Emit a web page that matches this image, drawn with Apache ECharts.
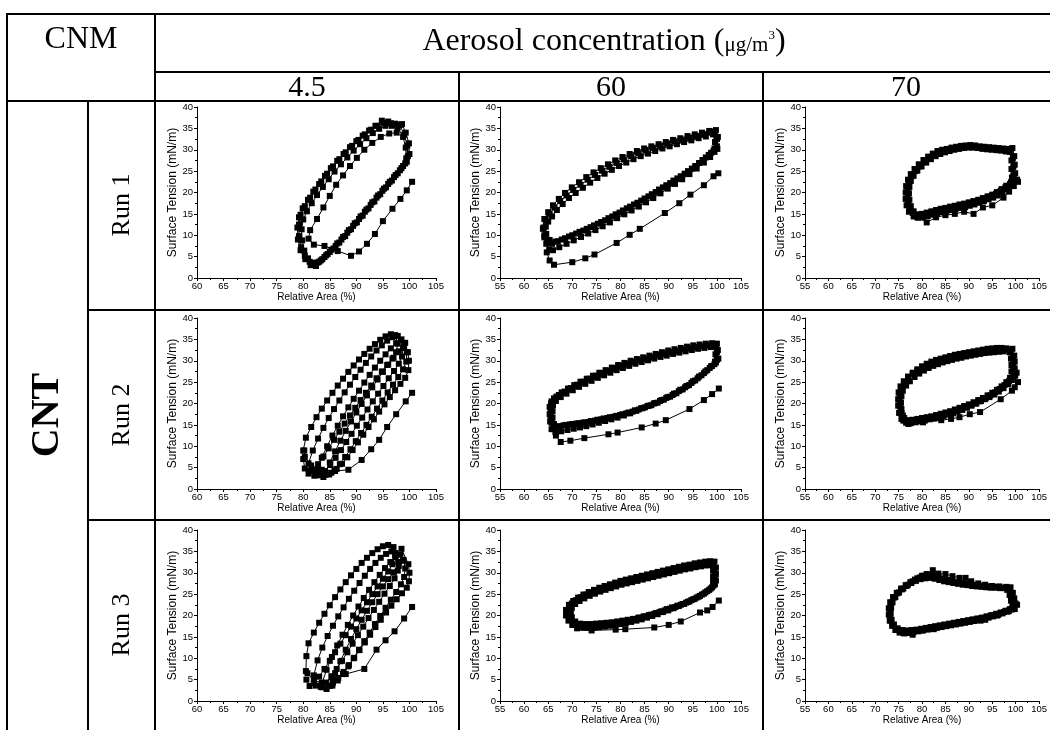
<!DOCTYPE html>
<html><head><meta charset="utf-8">
<script src="https://cdn.jsdelivr.net/npm/echarts@6/dist/echarts.min.js"></script>
<style>html,body{margin:0;padding:0;background:#fff}#c{width:1050px;height:730px}</style>
</head><body><div id="c"></div>
<script>
// ---------- labels ----------
const concentrations = ['4.5', '60', '70'];
const runs = ['Run 1', 'Run 2', 'Run 3'];
const xMinByCol = [60, 55, 55];
const xMax = 105;
const yMin = 0, yMax = 40;
const xTitle = 'Relative Area (%)';
const yTitle = 'Surface Tension (mN/m)';

// ---------- 4.5 µg/m3, Run 1 ----------
const a1First = [[100.5,22.5],[99.5,20.5],[98.3,18.5],[96.8,16.2],[95,13.3],[93.5,10.3],[92,8],[90.5,6.2],[89,5.2],[86.5,6.3],[84,7.5],[82,7.8],[81,9.2],[81.3,11.2],[82.6,13.8],[83.8,16.5],[85,19.2],[86.2,21.8],[87.5,24],[88.8,26.2],[90.1,28.1],[91.5,30],[93,31.6],[94.6,33],[96.2,33.8],[97.6,34]];
const a1Cycle1 = [[98.2,35.8],[99,33.5],[99.6,31],[99.7,28.5],[99.2,26.8],[98.2,25.2],[97.1,23.6],[96,22],[94.9,20.4],[93.8,18.8],[92.7,17.1],[91.6,15.5],[90.5,13.8],[89.4,12.2],[88.3,10.6],[87.2,9],[86.1,7.5],[85,6.1],[84,4.9],[83,3.8],[82.2,3.2],[81.2,3.8],[80.3,5.2],[79.6,7.2],[79.2,9.8],[79.2,12.5],[79.5,14.8],[80.3,16.8],[81.3,18.8],[82.3,20.7],[83.4,22.6],[84.5,24.4],[85.6,26.1],[86.8,27.8],[88,29.4],[89.2,30.9],[90.4,32.3],[91.6,33.6],[92.8,34.7],[94,35.6],[95.2,36.3],[96.5,36.2],[97.6,35.9]];
const a1Cycle2 = [[97.8,35.2],[98.8,33],[99.3,30.5],[99.4,28],[98.8,26.2],[97.8,24.5],[96.7,22.8],[95.6,21.2],[94.5,19.6],[93.4,17.9],[92.3,16.3],[91.2,14.6],[90.1,13],[89,11.4],[87.9,9.8],[86.8,8.3],[85.7,6.9],[84.6,5.6],[83.6,4.4],[82.7,3.6],[81.8,3.6],[80.9,4.6],[80.2,6.4],[79.8,8.8],[79.7,11.4],[80,13.7],[80.7,15.6],[81.6,17.5],[82.6,19.4],[83.7,21.3],[84.8,23.1],[85.9,24.9],[87.1,26.6],[88.3,28.2],[89.5,29.8],[90.7,31.3],[91.9,32.7],[93.1,33.9],[94.3,34.9],[95.5,35.6],[96.7,35.6]];
const a1Cycle3 = [[98.6,36],[99.3,34],[99.9,31.5],[100,29],[99.5,27.2],[98.5,25.7],[97.4,24.1],[96.3,22.5],[95.2,20.9],[94.1,19.3],[93,17.7],[91.9,16],[90.8,14.4],[89.7,12.8],[88.6,11.2],[87.5,9.6],[86.4,8.1],[85.3,6.6],[84.3,5.3],[83.3,4.1],[82.4,2.8],[81.4,3],[80.4,4.4],[79.5,6.5],[79,9],[78.9,11.8],[79.2,14.2],[79.9,16.3],[80.9,18.3],[81.9,20.2],[83,22],[84.1,23.9],[85.2,25.7],[86.4,27.4],[87.6,29],[88.8,30.6],[90,32],[91.2,33.3],[92.4,34.5],[93.6,35.6],[94.8,36.8],[96,36.6],[97.3,36.1]];

// ---------- 60 µg/m3, Run 1 ----------
const b1First = [[100.3,24.5],[99.3,23.8],[97.3,21.7],[94.5,19.5],[92.2,17.5],[89.2,15.2],[84,11.5],[81.9,10.1],[79.2,8.2],[74.6,5.5],[72.7,4.6],[70,3.7],[66.2,3.1],[65.3,4.1],[64.7,6]];
const b1Cycle1 = [[99.6,34.3],[100,32.5],[100,30.8],[99.3,29.8],[98.3,28.8],[97,27.6],[95.5,26.2],[94,25],[92.5,23.8],[91,22.8],[89.5,21.7],[88,20.7],[86.5,19.6],[85,18.6],[83.5,17.6],[82,16.7],[80.5,15.8],[79,14.9],[77.5,14],[76,13.1],[74.5,12.3],[73,11.5],[71.5,10.8],[70,10],[68.5,9.3],[67,8.6],[65.8,8],[64.8,8.6],[64.2,10],[64,11.8],[64.5,13.5],[65.3,15],[66.3,16.5],[67.5,18],[68.8,19.3],[70.2,20.6],[71.7,21.8],[73.2,23],[74.7,24.1],[76.2,25.1],[77.7,26],[79.2,26.9],[80.7,27.7],[82.2,28.5],[83.7,29.2],[85.2,29.8],[86.7,30.4],[88.2,30.9],[89.7,31.4],[91.2,31.9],[92.7,32.3],[94.2,32.8],[95.7,33.2],[97.2,33.6],[98.5,34]];
const b1Cycle2 = [[99.2,33.6],[99.6,31.8],[99.5,30.3],[98.8,29.3],[97.7,28.2],[96.3,26.9],[94.8,25.6],[93.3,24.4],[91.8,23.3],[90.3,22.2],[88.8,21.2],[87.3,20.1],[85.8,19.1],[84.3,18.1],[82.8,17.2],[81.3,16.3],[79.8,15.3],[78.3,14.4],[76.8,13.5],[75.3,12.7],[73.8,11.9],[72.3,11.1],[70.8,10.4],[69.3,9.7],[67.8,9],[66.5,8.5],[65.3,8.9],[64.6,10.3],[64.5,12],[65,13.2],[65.8,14.4],[66.8,15.9],[68,17.3],[69.3,18.7],[70.7,19.9],[72.2,21.1],[73.7,22.3],[75.2,23.4],[76.7,24.4],[78.2,25.3],[79.7,26.2],[81.2,27],[82.7,27.8],[84.2,28.5],[85.7,29.1],[87.2,29.7],[88.7,30.3],[90.2,30.8],[91.7,31.3],[93.2,31.8],[94.7,32.2],[96.2,32.7],[97.7,33.1]];
const b1Cycle3 = [[99.8,34.6],[100.2,33],[100.1,30.2],[99.5,29.5],[98.6,28.3],[97.3,27],[95.8,25.6],[94.3,24.3],[92.8,23.1],[91.3,22],[89.8,20.9],[88.3,19.8],[86.8,18.7],[85.3,17.7],[83.8,16.7],[82.3,15.8],[80.8,14.9],[79.3,14],[77.8,13],[76.3,12.1],[74.8,11.2],[73.3,10.4],[71.8,9.6],[70.3,8.8],[68.8,8],[67.3,7.2],[66,6.5],[65.2,6.6],[64.6,8],[64.2,9.5],[63.9,11.5],[64.2,13.8],[65,15.4],[66,17],[67.2,18.5],[68.5,19.9],[69.9,21.2],[71.4,22.4],[72.9,23.6],[74.4,24.7],[75.9,25.7],[77.4,26.6],[78.9,27.5],[80.4,28.3],[81.9,29],[83.4,29.7],[84.9,30.3],[86.4,30.8],[87.9,31.3],[89.4,31.8],[90.9,32.3],[92.4,32.7],[93.9,33.2],[95.4,33.6],[96.9,34],[98.4,34.4]];

// ---------- 70 µg/m3, Run 1 ----------
const c1First = [[100.5,22.5],[99.6,21.5],[98.6,20.2],[97.4,18.8],[95,17],[93,16.5],[91,15],[89,15.5],[87,15],[85,14.7],[83,14.2],[81,13],[79,14.2]];
const c1Cycle1 = [[99,30],[99.4,28],[99.5,26],[99.5,24],[99.6,22.5],[98.8,22],[97.8,21.2],[96.8,20.4],[95.8,19.7],[94.8,19.1],[93.8,18.7],[92.8,18.3],[91.8,17.9],[90.8,17.6],[89.8,17.3],[88.8,17],[87.8,16.8],[86.8,16.5],[85.8,16.3],[84.8,16],[83.8,15.8],[82.8,15.5],[81.8,15.2],[80.8,14.9],[79.8,14.6],[78.8,14.5],[78,15.2],[77.3,16.5],[77,18],[76.9,19.5],[76.9,21],[77.2,22.5],[77.8,23.8],[78.6,25],[79.5,26.1],[80.5,27.1],[81.5,27.9],[82.5,28.6],[83.5,29.2],[84.5,29.6],[85.5,29.9],[86.5,30.2],[87.5,30.4],[88.5,30.6],[89.5,30.7],[90.5,30.8],[91.5,30.7],[92.5,30.5],[93.5,30.4],[94.5,30.3],[95.5,30.2],[96.5,30.1],[97.5,30],[98.5,29.8]];
const c1Cycle2 = [[98.7,29.5],[99.1,27.5],[99.1,25.5],[99.2,23.5],[99.8,22.8],[99,22.4],[98,21.6],[97,20.8],[96,20.1],[95,19.5],[94,19.1],[93,18.7],[92,18.3],[91,18],[90,17.7],[89,17.4],[88,17.2],[87,16.9],[86,16.7],[85,16.4],[84,16.2],[83,15.9],[82,15.6],[81,15.3],[80,15],[79,14.9],[78.2,15.6],[77.6,16.8],[77.3,18.3],[77.2,19.8],[77.3,21.3],[77.6,22.7],[78.2,23.9],[79,25.1],[79.9,26.1],[80.9,27],[81.9,27.8],[82.9,28.5],[83.9,29],[84.9,29.4],[85.9,29.7],[86.9,30],[87.9,30.2],[88.9,30.4],[89.9,30.5],[90.9,30.5],[91.9,30.4],[92.9,30.2],[93.9,30.1],[94.9,30],[95.9,29.9],[96.9,29.8],[97.9,29.6]];
const c1Cycle3 = [[99.3,30.4],[99.7,28.5],[99.8,26.5],[99.9,24.5],[100.3,23],[99.2,21.6],[98.2,20.8],[97.2,20],[96.2,19.3],[95.2,18.8],[94.2,18.4],[93.2,18],[92.2,17.6],[91.2,17.2],[90.2,16.9],[89.2,16.6],[88.2,16.4],[87.2,16.2],[86.2,15.9],[85.2,15.6],[84.2,15.4],[83.2,15.1],[82.2,14.8],[81.2,14.5],[80.2,14.2],[79.2,14.1],[78.2,14.4],[77.2,15.5],[76.7,17],[76.5,18.5],[76.5,20],[76.6,21.5],[77,23],[77.6,24.3],[78.4,25.5],[79.3,26.6],[80.3,27.6],[81.3,28.4],[82.3,29.1],[83.3,29.7],[84.3,30],[85.3,30.2],[86.3,30.5],[87.3,30.7],[88.3,30.9],[89.3,31],[90.3,31.1],[91.3,31],[92.3,30.8],[93.3,30.7],[94.3,30.6],[95.3,30.5],[96.3,30.4],[97.3,30.3],[98.3,30.2]];

// ---------- 4.5 µg/m3, Run 2 ----------
const a2First = [[100.5,22.5],[99.3,20.5],[97.5,17.5],[95.8,14.5],[94.3,11.5],[92.8,9.3],[91,6.8],[88.5,4.5],[86,4.2],[83.5,4.5],[81.5,5.5],[80.3,7.5],[80.2,9]];
const a2Loop1 = [[80,9],[80.5,12],[81.5,14.5],[82.5,16.8],[83.5,18.8],[84.5,20.7],[85.5,22.5],[86.5,24.2],[87.5,25.8],[88.5,27.4],[89.5,28.9],[90.5,30.3],[91.5,31.6],[92.5,32.8],[93.5,33.9],[94.5,34.9],[95.5,35.7],[96.5,36.2],[97.3,36],[97.8,34],[97.5,32],[96.8,30.5],[95.8,29],[94.8,27.5],[93.8,25.9],[92.8,24.2],[91.8,22.5],[90.8,20.8],[89.8,19],[88.8,17.2],[87.8,15.3],[86.8,13.4],[85.8,11.5],[84.8,9.5],[83.8,7.6],[82.8,5.8],[81.8,4.3],[81,3.6],[80.3,4.8],[80,7]];
const a2Loop2 = [[81,6],[81.8,9],[82.8,11.8],[83.8,14.3],[84.8,16.6],[85.8,18.7],[86.8,20.7],[87.8,22.6],[88.8,24.4],[89.8,26.2],[90.8,27.9],[91.8,29.5],[92.8,31],[93.8,32.4],[94.8,33.6],[95.8,34.7],[96.8,35.5],[97.8,35.8],[98.5,35],[98.8,33],[98.6,31],[98,29.3],[97.1,27.6],[96.1,25.9],[95.1,24.1],[94.1,22.3],[93.1,20.5],[92.1,18.6],[91.1,16.7],[90.1,14.8],[89.1,12.9],[88.1,11],[87.1,9.1],[86.1,7.3],[85.1,5.6],[84.1,4.2],[83.1,3.2],[82.1,3.1],[81.3,4.2]];
const a2Loop3 = [[82.5,4.5],[83.5,7.3],[84.5,10],[85.5,12.5],[86.5,14.8],[87.5,17],[88.5,19.1],[89.5,21.1],[90.5,23],[91.5,24.9],[92.5,26.7],[93.5,28.4],[94.5,30],[95.5,31.5],[96.5,32.9],[97.5,34.1],[98.4,34.8],[99.2,34.2],[99.5,32],[99.4,29.8],[98.8,28],[97.9,26.2],[96.9,24.4],[95.9,22.6],[94.9,20.7],[93.9,18.8],[92.9,16.9],[91.9,15],[90.9,13.1],[89.9,11.2],[88.9,9.3],[87.9,7.5],[86.9,5.8],[85.9,4.4],[84.9,3.4],[83.8,2.8],[82.9,3.3]];
const a2Loop4 = [[84,3.5],[85,6.2],[86,8.8],[87,11.3],[88,13.6],[89,15.8],[90,17.9],[91,19.9],[92,21.9],[93,23.8],[94,25.6],[95,27.4],[96,29.1],[97,30.7],[98,32.2],[99,33.4],[99.7,32],[99.9,30],[99.8,27.8],[99.2,26],[98.3,24.6],[97.3,23.1],[96.3,21.5],[95.3,19.8],[94.3,18.1],[93.3,16.3],[92.3,14.5],[91.3,12.7],[90.3,10.9],[89.3,9.1],[88.3,7.4],[87.3,5.9],[86.3,4.7],[85.3,3.8],[84.2,3.3]];

// ---------- 60 µg/m3, Run 2 ----------
const b2First = [[100.4,23.5],[99,22.2],[97.3,20.8],[94.3,18.7],[89.4,16.1],[87.3,15.3],[84.4,14.4],[79.4,13.2],[77.5,12.8],[72.5,11.9],[69.6,11.3],[67.6,11],[66.6,12.5],[66.2,14]];
const b2Cycle1 = [[99.8,33.8],[100,32],[100,30.2],[99.5,29.2],[98.5,28.3],[97.3,27.1],[96,25.9],[94.7,24.8],[93.4,23.8],[92.1,22.9],[90.8,22],[89.5,21.3],[88.2,20.6],[86.9,20],[85.6,19.4],[84.3,18.9],[83,18.4],[81.7,17.9],[80.4,17.5],[79.1,17.1],[77.8,16.8],[76.5,16.5],[75.2,16.2],[73.9,15.9],[72.6,15.6],[71.3,15.4],[70,15.2],[68.7,15],[67.4,14.7],[66.3,14.3],[65.7,15.5],[65.5,17],[65.5,18.5],[65.6,20],[66.2,21.2],[67.2,22],[68.4,22.8],[69.7,23.6],[71,24.4],[72.3,25.1],[73.6,25.8],[74.9,26.5],[76.2,27.1],[77.5,27.7],[78.8,28.3],[80.1,28.8],[81.4,29.3],[82.7,29.7],[84,30.1],[85.3,30.5],[86.6,30.9],[87.9,31.3],[89.2,31.6],[90.5,32],[91.8,32.3],[93.1,32.6],[94.4,32.9],[95.7,33.2],[97,33.4],[98.4,33.6]];
const b2Cycle2 = [[99.5,33.3],[99.7,31.5],[99.6,29.8],[99,28.8],[98,27.8],[96.8,26.6],[95.5,25.4],[94.2,24.3],[92.9,23.3],[91.6,22.4],[90.3,21.6],[89,20.9],[87.7,20.2],[86.4,19.6],[85.1,19.1],[83.8,18.6],[82.5,18.1],[81.2,17.7],[79.9,17.3],[78.6,16.9],[77.3,16.6],[76,16.3],[74.7,16],[73.4,15.7],[72.1,15.5],[70.8,15.3],[69.5,15.1],[68.2,14.9],[67,14.6],[66.2,15.2],[65.9,16.7],[65.9,18.2],[66,19.6],[66.6,20.6],[67.6,21.5],[68.8,22.3],[70.1,23.1],[71.4,23.9],[72.7,24.6],[74,25.3],[75.3,26],[76.6,26.6],[77.9,27.2],[79.2,27.8],[80.5,28.3],[81.8,28.8],[83.1,29.3],[84.4,29.7],[85.7,30.1],[87,30.5],[88.3,30.9],[89.6,31.2],[90.9,31.6],[92.2,31.9],[93.5,32.2],[94.8,32.5],[96.1,32.8],[97.4,33],[98.7,33.2]];
const b2Cycle3 = [[100,34],[100.2,32.5],[100.3,30.5],[99.8,29.6],[98.8,28.7],[97.6,27.5],[96.3,26.3],[95,25.2],[93.7,24.1],[92.4,23.2],[91.1,22.3],[89.8,21.5],[88.5,20.8],[87.2,20.1],[85.9,19.5],[84.6,18.9],[83.3,18.3],[82,17.7],[80.7,17.2],[79.4,16.7],[78.1,16.3],[76.8,15.9],[75.5,15.5],[74.2,15.1],[72.9,14.7],[71.6,14.4],[70.3,14.1],[69,13.8],[67.7,13.5],[66.5,13.3],[65.7,14],[65.4,15.8],[65.3,17.5],[65.3,19.2],[65.7,20.5],[66.7,21.6],[67.8,22.6],[69.1,23.5],[70.4,24.3],[71.7,25.1],[73,25.8],[74.3,26.5],[75.6,27.2],[76.9,27.8],[78.2,28.4],[79.5,29],[80.8,29.5],[82.1,30],[83.4,30.4],[84.7,30.8],[86,31.2],[87.3,31.6],[88.6,32],[89.9,32.4],[91.2,32.7],[92.5,33],[93.8,33.3],[95.1,33.6],[96.4,33.8],[97.7,34],[99,34.1]];

// ---------- 70 µg/m3, Run 2 ----------
const c2First = [[100.5,25],[99.8,23.8],[99.2,23],[96.8,21],[92.4,18],[90.2,17.5],[88,16.8],[86.2,16.4],[84.1,16.1],[80.2,15.6],[77.1,15.2],[76,16]];
const c2Cycle1 = [[99,32.5],[99.4,31],[99.5,29.5],[99.5,28],[99.5,27],[98.8,26],[98,25],[97,24],[96,23.2],[95,22.5],[94,21.9],[93,21.3],[92,20.8],[91,20.3],[90,19.8],[89,19.4],[88,19],[87,18.6],[86,18.2],[85,17.9],[84,17.6],[83,17.3],[82,17],[81,16.8],[80,16.6],[79,16.4],[78,16.2],[77,16.1],[76.2,16.6],[75.6,17.8],[75.3,19.3],[75.2,20.8],[75.2,22.3],[75.5,23.7],[76.2,24.8],[77,25.8],[78,26.8],[79,27.6],[80,28.3],[81,28.8],[82,29.3],[83,29.7],[84,30],[85,30.3],[86,30.6],[87,30.9],[88,31.1],[89,31.3],[90,31.5],[91,31.7],[92,31.9],[93,32.1],[94,32.3],[95,32.4],[96,32.5],[97,32.6],[98,32.6]];
const c2Cycle2 = [[98.7,32],[99,30.5],[99.1,29],[99.1,27.5],[99.9,26.5],[99.2,25.5],[98.4,24.5],[97.4,23.6],[96.4,22.8],[95.4,22.1],[94.4,21.5],[93.4,21],[92.4,20.5],[91.4,20],[90.4,19.6],[89.4,19.2],[88.4,18.8],[87.4,18.4],[86.4,18],[85.4,17.7],[84.4,17.4],[83.4,17.1],[82.4,16.8],[81.4,16.6],[80.4,16.4],[79.4,16.2],[78.4,16],[77.4,15.8],[76.5,16],[75.9,17.2],[75.6,18.7],[75.5,20.2],[75.6,21.7],[75.9,23],[76.6,24.2],[77.4,25.2],[78.4,26.2],[79.4,27],[80.4,27.7],[81.4,28.3],[82.4,28.8],[83.4,29.2],[84.4,29.6],[85.4,29.9],[86.4,30.2],[87.4,30.5],[88.4,30.7],[89.4,31],[90.4,31.2],[91.4,31.4],[92.4,31.6],[93.4,31.8],[94.4,31.9],[95.4,32],[96.4,32.1],[97.4,32.2]];
const c2Cycle3 = [[99.3,32.8],[99.7,31.2],[99.8,29.8],[99.8,28.2],[100.2,27.2],[99.5,26.2],[98.6,25.3],[97.6,24.3],[96.6,23.4],[95.6,22.6],[94.6,21.9],[93.6,21.2],[92.6,20.6],[91.6,20],[90.6,19.5],[89.6,19],[88.6,18.5],[87.6,18.1],[86.6,17.7],[85.6,17.4],[84.6,17.1],[83.6,16.8],[82.6,16.5],[81.6,16.3],[80.6,16],[79.6,15.8],[78.6,15.6],[77.6,15.4],[76.6,15.5],[75.6,16.4],[75.1,17.8],[74.9,19.5],[74.9,21],[75,22.6],[75.4,24],[76.1,25.2],[77,26.3],[78,27.2],[79,28],[80,28.7],[81,29.3],[82,29.8],[83,30.2],[84,30.5],[85,30.8],[86,31.1],[87,31.4],[88,31.6],[89,31.8],[90,32],[91,32.2],[92,32.4],[93,32.6],[94,32.8],[95,32.9],[96,33],[97,33],[98,32.9]];

// ---------- 4.5 µg/m3, Run 3 ----------
const a3First = [[100.5,22],[99,19.3],[97.2,16.3],[95.5,14.2],[93.8,12],[91.5,7.5],[88,6.3],[85.5,5.3],[83.5,4.3],[82,4.8],[80.8,6.5]];
const a3Loop1 = [[80.5,7],[80.6,10.5],[81,13.5],[82,16],[83,18.3],[84,20.4],[85,22.4],[86,24.3],[87,26.1],[88,27.8],[89,29.4],[90,30.9],[91,32.3],[92,33.5],[93,34.6],[94,35.5],[95,36.2],[96,36.5],[97,36],[97.3,34],[96.8,32],[96,30.3],[95,28.6],[94,26.8],[93,25],[92,23.1],[91,21.2],[90,19.3],[89,17.4],[88,15.4],[87,13.4],[86,11.4],[85,9.4],[84,7.5],[83,5.7],[82,4.2],[81.2,3.5],[80.6,5]];
const a3Loop2 = [[82,6],[82.7,9.5],[83.6,12.5],[84.6,15.2],[85.6,17.6],[86.6,19.8],[87.6,21.9],[88.6,23.9],[89.6,25.8],[90.6,27.6],[91.6,29.3],[92.6,30.9],[93.6,32.3],[94.6,33.5],[95.6,34.4],[96.6,35],[97.4,34.6],[97.9,32.5],[97.8,30.5],[97.2,28.7],[96.3,26.9],[95.3,25.1],[94.3,23.2],[93.3,21.3],[92.3,19.4],[91.3,17.4],[90.3,15.4],[89.3,13.4],[88.3,11.4],[87.3,9.4],[86.3,7.5],[85.3,5.8],[84.3,4.3],[83.3,3.3],[82.4,3.6]];
const a3Loop3 = [[83.5,4],[84.4,7.3],[85.4,10.3],[86.4,13],[87.4,15.5],[88.4,17.8],[89.4,20],[90.4,22.1],[91.4,24.1],[92.4,26],[93.4,27.8],[94.4,29.5],[95.4,31.1],[96.4,32.5],[97.4,33.6],[98.3,34.2],[98.9,33],[99.2,31],[99,29],[98.4,27.3],[97.5,25.5],[96.5,23.7],[95.5,21.8],[94.5,19.9],[93.5,18],[92.5,16],[91.5,14],[90.5,12],[89.5,10],[88.5,8.1],[87.5,6.3],[86.5,4.8],[85.5,3.6],[84.4,2.8],[83.6,3.2]];
const a3Loop4 = [[85,3.5],[86,6.5],[87,9.3],[88,12],[89,14.5],[90,16.8],[91,19],[92,21.1],[93,23.1],[94,25],[95,26.8],[96,28.5],[97,30.1],[98,31.6],[98.8,32.8],[98.5,35.6],[99.8,32],[100,30],[99.9,28],[99.5,26.5],[98.6,25.2],[97.6,23.8],[96.6,22.3],[95.6,20.7],[94.6,19],[93.6,17.3],[92.6,15.5],[91.6,13.7],[90.6,11.9],[89.6,10.1],[88.6,8.4],[87.6,6.8],[86.6,5.4],[85.6,4.3],[84.8,3.6]];

// ---------- 60 µg/m3, Run 3 ----------
const b3First = [[100.4,23.5],[99.1,22],[98,21.2],[96.5,20.7],[92.5,18.6],[90,17.8],[87,17.2],[81,16.8],[79,16.7],[74,16.5],[71,17],[70,17.8]];
const b3Cycle1 = [[99.2,32.3],[99.5,31],[99.5,29.5],[99.5,28],[99.3,27],[98.4,26],[97.3,25.1],[96.2,24.4],[95.1,23.8],[94,23.2],[92.9,22.7],[91.8,22.3],[90.7,21.9],[89.6,21.5],[88.5,21],[87.4,20.6],[86.3,20.2],[85.2,19.8],[84.1,19.5],[83,19.2],[81.9,18.9],[80.8,18.7],[79.7,18.5],[78.6,18.3],[77.5,18.1],[76.4,17.9],[75.3,17.8],[74.2,17.7],[73.1,17.6],[72,17.6],[71,17.8],[70.1,18.4],[69.4,19.4],[69.1,20.6],[69.3,21.8],[69.9,22.8],[70.8,23.6],[71.8,24.3],[72.9,24.9],[74,25.4],[75.1,25.9],[76.2,26.3],[77.3,26.7],[78.4,27.1],[79.5,27.5],[80.6,27.8],[81.7,28.1],[82.8,28.4],[83.9,28.7],[85,29],[86.1,29.3],[87.2,29.5],[88.3,29.8],[89.4,30.1],[90.5,30.4],[91.6,30.6],[92.7,30.9],[93.8,31.2],[94.9,31.4],[96,31.7],[97.1,31.9],[98.2,32.1]];
const b3Cycle2 = [[98.9,31.8],[99.2,30.5],[99.2,29],[99.2,27.6],[99,26.6],[98,25.7],[96.9,24.9],[95.8,24.2],[94.7,23.6],[93.6,23],[92.5,22.5],[91.4,22],[90.3,21.6],[89.2,21.2],[88.1,20.8],[87,20.4],[85.9,20.1],[84.8,19.8],[83.7,19.5],[82.6,19.2],[81.5,19],[80.4,18.8],[79.3,18.6],[78.2,18.4],[77.1,18.3],[76,18.2],[74.9,18.1],[73.8,18],[72.7,18],[71.6,18.1],[70.6,18.6],[69.9,19.6],[69.7,20.7],[69.9,21.8],[70.6,22.7],[71.5,23.4],[72.5,24],[73.6,24.6],[74.7,25.1],[75.8,25.6],[76.9,26],[78,26.4],[79.1,26.8],[80.2,27.2],[81.3,27.5],[82.4,27.8],[83.5,28.1],[84.6,28.4],[85.7,28.7],[86.8,29],[87.9,29.3],[89,29.6],[90.1,29.9],[91.2,30.2],[92.3,30.5],[93.4,30.8],[94.5,31],[95.6,31.3],[96.7,31.5],[97.8,31.7]];
const b3Cycle3 = [[99.5,32.6],[99.8,31.2],[99.8,29.7],[99.8,28.2],[99.6,27.3],[98.7,26.3],[97.6,25.4],[96.5,24.6],[95.4,23.9],[94.3,23.3],[93.2,22.7],[92.1,22.2],[91,21.7],[89.9,21.2],[88.8,20.8],[87.7,20.3],[86.6,19.9],[85.5,19.5],[84.4,19.1],[83.3,18.8],[82.2,18.5],[81.1,18.2],[80,18],[78.9,17.8],[77.8,17.6],[76.7,17.4],[75.6,17.3],[74.5,17.2],[73.4,17.1],[72.3,17.1],[71.2,17.3],[70.2,17.8],[69.2,18.8],[68.7,20],[68.7,21.3],[69.3,22.5],[70.2,23.4],[71.2,24.2],[72.3,24.9],[73.4,25.5],[74.5,26],[75.6,26.5],[76.7,26.9],[77.8,27.3],[78.9,27.7],[80,28.1],[81.1,28.4],[82.2,28.7],[83.3,29],[84.4,29.3],[85.5,29.6],[86.6,29.9],[87.7,30.2],[88.8,30.5],[89.9,30.8],[91,31.1],[92.1,31.4],[93.2,31.7],[94.3,31.9],[95.4,32.2],[96.5,32.4],[97.6,32.6],[98.6,32.7]];

// ---------- 70 µg/m3, Run 3 ----------
const c3First = [[100.3,22.5],[99.6,22],[98.5,21],[96,20],[93.5,19],[92.5,18.8],[88,18.3],[84,17.5],[82.5,16.8],[80,16.5],[78,15.5],[76,16]];
const c3Cycle1 = [[98.5,26.3],[99,25],[99.3,23.8],[99.6,22.6],[99.4,21.7],[98.5,21.2],[97.5,20.8],[96.5,20.4],[95.5,20.1],[94.5,19.8],[93.5,19.5],[92.5,19.3],[91.5,19],[90.5,18.8],[89.5,18.6],[88.5,18.4],[87.5,18.2],[86.5,18],[85.5,17.8],[84.5,17.6],[83.5,17.4],[82.5,17.2],[81.5,17],[80.5,16.8],[79.5,16.6],[78.5,16.4],[77.5,16.3],[76.5,16.2],[75.5,16.3],[74.5,16.7],[73.8,17.6],[73.3,18.8],[73.1,20.2],[73.1,21.6],[73.4,23],[74,24.2],[74.8,25.2],[75.7,26.1],[76.7,26.9],[77.7,27.6],[78.7,28.1],[79.7,28.5],[80.7,28.7],[81.7,28.8],[82.7,28.6],[83.7,28.3],[84.7,28],[85.7,27.8],[86.7,27.6],[87.7,27.4],[88.7,27.2],[89.7,27.1],[90.7,26.9],[91.7,26.8],[92.7,26.7],[93.7,26.6],[94.7,26.5],[95.7,26.5],[96.7,26.4],[97.7,26.4]];
const c3Cycle2 = [[98.2,26],[98.7,24.8],[99,23.5],[99.3,22.3],[99.1,21.4],[98.2,20.9],[97.2,20.5],[96.2,20.1],[95.2,19.8],[94.2,19.5],[93.2,19.2],[92.2,19],[91.2,18.7],[90.2,18.5],[89.2,18.3],[88.2,18.1],[87.2,17.9],[86.2,17.7],[85.2,17.5],[84.2,17.3],[83.2,17.1],[82.2,16.9],[81.2,16.7],[80.2,16.5],[79.2,16.3],[78.2,16.1],[77.2,15.9],[76.2,15.8],[75.2,16],[74.3,16.6],[73.6,17.6],[73.1,18.8],[72.9,20.2],[72.9,21.7],[73.2,23.1],[73.8,24.3],[74.6,25.3],[75.5,26.3],[76.5,27.1],[77.5,27.8],[78.5,28.4],[79.5,28.9],[80.5,29.3],[81.5,29.5],[82.5,29.3],[83.5,29],[84.5,28.6],[85.5,28.3],[86.5,28],[87.5,27.8],[88.5,27.6],[89.5,27.4],[90.5,27.3],[91.5,27.1],[92.5,27],[93.5,26.9],[94.5,26.8],[95.5,26.7],[96.5,26.6],[97.5,26.5]];
const c3Cycle3 = [[98.9,26.6],[99.4,25.3],[99.7,24],[100,22.8],[99.8,21.5],[98.8,21.5],[97.8,21.1],[96.8,20.7],[95.8,20.4],[94.8,20.1],[93.8,19.8],[92.8,19.5],[91.8,19.3],[90.8,19.1],[89.8,18.9],[88.8,18.7],[87.8,18.5],[86.8,18.3],[85.8,18.1],[84.8,17.9],[83.8,17.7],[82.8,17.5],[81.8,17.3],[80.8,17.1],[79.8,16.9],[78.8,16.7],[77.8,16.6],[76.8,16.5],[75.8,16.6],[74.8,17],[74,17.9],[73.5,19],[73.3,20.4],[73.4,21.8],[73.7,23.1],[74.3,24.3],[75.1,25.4],[76,26.3],[77,27.2],[78,28],[79,28.7],[80,29.3],[81,29.7],[82.3,30.6],[83.5,29.8],[85,29.7],[86.5,29.2],[88,28.8],[89.3,28.8],[90.5,28],[92,27.5],[93.5,27.2],[95,26.9],[96.5,26.8],[98,26.7]];

// panels in row-major order (row = run, column = concentration)
const panelData = [
  [a1First, a1Cycle1, a1Cycle2, a1Cycle3],
  [b1First, b1Cycle1, b1Cycle2, b1Cycle3],
  [c1First, c1Cycle1, c1Cycle2, c1Cycle3],
  [a2First, a2Loop1, a2Loop2, a2Loop3, a2Loop4],
  [b2First, b2Cycle1, b2Cycle2, b2Cycle3],
  [c2First, c2Cycle1, c2Cycle2, c2Cycle3],
  [a3First, a3Loop1, a3Loop2, a3Loop3, a3Loop4],
  [b3First, b3Cycle1, b3Cycle2, b3Cycle3],
  [c3First, c3Cycle1, c3Cycle2, c3Cycle3]
];

// ---------- layout ----------
const gridLefts = [197, 500, 805];
const gridWidths = [239, 241, 237];
const gridTops = [107, 318, 530];
const gridHeight = 171;
const serifFont = '"Liberation Serif", "Times New Roman", serif';
const sansFont = '"Liberation Sans", Arial, sans-serif';

const grids = [], xAxes = [], yAxes = [], series = [];
for (let r = 0; r < 3; r++) {
  for (let c = 0; c < 3; c++) {
    const gi = r * 3 + c;
    grids.push({ left: gridLefts[c], top: gridTops[r], width: gridWidths[c], height: gridHeight, containLabel: false });
    xAxes.push({
      type: 'value', gridIndex: gi, min: xMinByCol[c], max: xMax, interval: 5,
      name: xTitle, nameLocation: 'middle', nameGap: 12,
      nameTextStyle: { fontFamily: sansFont, fontSize: 10, color: '#000', verticalAlign: 'top' },
      axisLine: { show: true, onZero: false, lineStyle: { color: '#000', width: 1 } },
      axisTick: { show: true, length: 3, lineStyle: { color: '#000' } },
      minorTick: { show: true, splitNumber: 2, length: 2, lineStyle: { color: '#000' } },
      axisLabel: { fontFamily: sansFont, fontSize: 9.5, color: '#000', margin: 3, showMinLabel: true, showMaxLabel: true },
      splitLine: { show: false }, minorSplitLine: { show: false }
    });
    yAxes.push({
      type: 'value', gridIndex: gi, min: yMin, max: yMax, interval: 5,
      name: yTitle, nameLocation: 'middle', nameGap: 17,
      nameTextStyle: { fontFamily: sansFont, fontSize: 12, color: '#000' },
      axisLine: { show: true, onZero: false, lineStyle: { color: '#000', width: 1 } },
      axisTick: { show: true, length: 3, lineStyle: { color: '#000' } },
      minorTick: { show: true, splitNumber: 2, length: 2, lineStyle: { color: '#000' } },
      axisLabel: { fontFamily: sansFont, fontSize: 9.5, color: '#000', margin: 4 },
      splitLine: { show: false }, minorSplitLine: { show: false }
    });
    panelData[gi].forEach(pts => {
      series.push({
        type: 'line', xAxisIndex: gi, yAxisIndex: gi, data: pts,
        symbol: 'rect', symbolSize: 6, showSymbol: true, showAllSymbol: true,
        lineStyle: { color: '#000', width: 1 }, itemStyle: { color: '#000' },
        silent: true, animation: false, clip: false
      });
    });
  }
}

// ---------- table ----------
const L = (x1, y1, x2, y2) => ({ type: 'line', shape: { x1, y1, x2, y2 }, style: { stroke: '#000', lineWidth: 2 }, silent: true, z: 100 });
const tableLines = [
  L(7, 14, 1050, 14), L(155, 72, 1050, 72), L(7, 101, 1050, 101),
  L(88, 310, 1050, 310), L(88, 520, 1050, 520),
  L(7, 13, 7, 730), L(155, 13, 155, 730), L(88, 101, 88, 730),
  L(459, 72, 459, 730), L(763, 72, 763, 730)
];
const T = (x, y, text, font, rot) => ({ type: 'text', x, y, rotation: rot || 0, silent: true, z: 100,
  style: { text, font, fill: '#000', align: 'center', verticalAlign: 'middle' } });
const colCenters = [307, 611, 906];
const rowCenters = [205, 415, 625];
const texts = [
  T(81, 40, 'CNM', '32px ' + serifFont),
  { type: 'text', x: 604, y: 42, silent: true, z: 100,
    style: { text: '{a|Aerosol concentration (}{b|μg/m}{c|3}{a|)}', align: 'center', verticalAlign: 'middle', fill: '#000',
      rich: {
        a: { fontFamily: serifFont, fontSize: 32, fill: '#000' },
        b: { fontFamily: serifFont, fontSize: 21, fill: '#000', verticalAlign: 'bottom', padding: [0, 0, 2, 0] },
        c: { fontFamily: serifFont, fontSize: 13, fill: '#000', verticalAlign: 'top', padding: [3, 0, 0, 0] }
      } } },
  T(48, 415, 'CNT', 'bold 40px ' + serifFont, Math.PI / 2)
];
concentrations.forEach((t, i) => texts.push(T(colCenters[i], 88, t, '30px ' + serifFont)));
runs.forEach((t, i) => texts.push(T(122, rowCenters[i], t, '26px ' + serifFont, Math.PI / 2)));

const chart = echarts.init(document.getElementById('c'), null, { renderer: 'canvas' });
chart.setOption({
  animation: false,
  backgroundColor: '#fff',
  grid: grids, xAxis: xAxes, yAxis: yAxes, series,
  graphic: { elements: tableLines.concat(texts) }
});
</script></body></html>
